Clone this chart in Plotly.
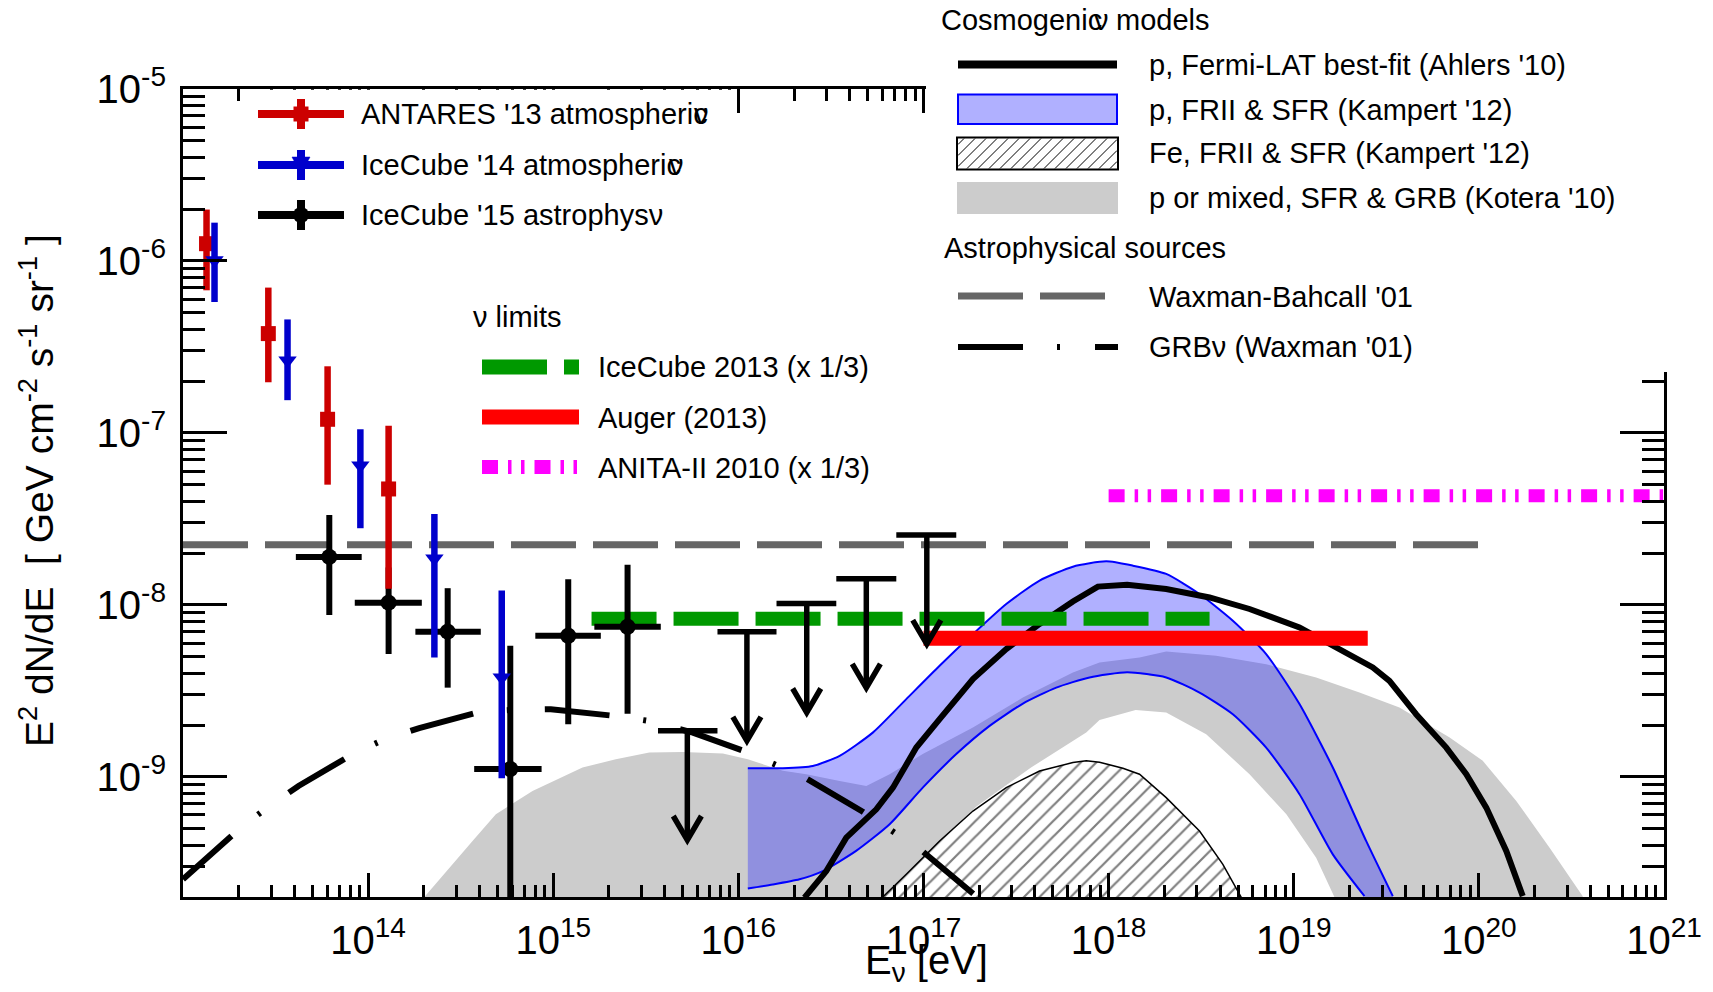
import numpy as np
import plotly.graph_objects as go

FONT = "Liberation Sans, Arial, Helvetica, sans-serif"

# ---------------------------------------------------------------- data
# ANTARES '13 atmospheric (E [eV], E^2 dN/dE [GeV cm^-2 s^-1 sr^-1])
antares_E = [1.34e13, 2.89e13, 6.04e13, 1.29e14]
antares_flux = [1.26e-6, 3.78e-7, 1.20e-7, 4.72e-8]
antares_hi = [1.99e-6, 7.00e-7, 2.44e-7, 1.10e-7]
antares_lo = [6.75e-7, 1.97e-7, 5.00e-8, 1.24e-8]

# IceCube '14 atmospheric
ic14_E = [1.48e13, 3.67e13, 9.08e13, 2.28e14, 5.27e14]
ic14_flux = [1.01e-6, 2.64e-7, 6.46e-8, 1.86e-8, 3.78e-9]
ic14_hi = [1.67e-6, 4.57e-7, 1.05e-7, 3.38e-8, 1.21e-8]
ic14_lo = [5.77e-7, 1.55e-7, 2.79e-8, 4.94e-9, 9.82e-10]

# IceCube '15 astrophysical
ic15_E = [6.17e13, 1.29e14, 2.69e14, 5.86e14, 1.205e15, 2.52e15]
ic15_Elo = [4.07e13, 8.47e13, 1.80e14, 3.74e14, 8.00e14, 1.667e15]
ic15_Ehi = [9.23e13, 1.95e14, 4.06e14, 8.65e14, 1.807e15, 3.81e15]
ic15_flux = [1.90e-8, 1.03e-8, 6.98e-9, 1.11e-9, 6.61e-9, 7.46e-9]
ic15_hi = [3.33e-8, 1.65e-8, 1.25e-8, 5.78e-9, 1.41e-8, 1.71e-8]
ic15_lo = [8.73e-9, 5.18e-9, 3.30e-9, 1.92e-10, 2.02e-9, 2.33e-9]

# IceCube '15 upper limits
lim_E = [5.30e15, 1.112e16, 2.34e16, 4.91e16, 1.042e17]
lim_Elo = [3.68e15, 7.71e15, 1.607e16, 3.38e16, 7.13e16]
lim_Ehi = [7.71e15, 1.607e16, 3.38e16, 7.13e16, 1.503e17]
lim_flux = [1.85e-9, 6.98e-9, 1.02e-8, 1.42e-8, 2.55e-8]

# flat limits / bounds: (E_min, E_max, flux)
wb_range, wb_flux = [1e13, 1e20], 2.24e-8
ic13_range, ic13_flux = [1.61e15, 3.51e18], 8.3e-9
auger_range, auger_flux = [1e17, 2.51e19], 6.4e-9
anita_range, anita_flux = [1e18, 1e21], 4.31e-8

# model curves, log10(E/eV) and log10(flux)
grb_logE = [13.0, 13.322, 13.469, 13.624, 13.925, 14.091, 14.276, 14.609, 14.798, 14.987,
            15.333, 15.515, 15.754, 16.033, 16.195, 16.367, 16.672, 16.829, 16.988, 17.294]
grb_logF = [-9.596, -9.286, -9.169, -9.053, -8.863, -8.781, -8.717, -8.620, -8.610, -8.607,
            -8.646, -8.675, -8.743, -8.851, -8.927, -9.010, -9.203, -9.311, -9.427, -9.703]

fermi_logE = [16.357, 16.475, 16.583, 16.745, 16.835, 16.961, 17.087, 17.267, 17.447, 17.627,
              17.807, 17.942, 18.10, 18.311, 18.545, 18.761, 19.031, 19.247, 19.427, 19.517,
              19.661, 19.824, 19.932, 20.040, 20.148, 20.237]
fermi_logF = [-9.703, -9.548, -9.354, -9.189, -9.063, -8.830, -8.665, -8.432, -8.257, -8.111,
              -7.980, -7.894, -7.883, -7.908, -7.957, -8.024, -8.131, -8.257, -8.364, -8.442,
              -8.636, -8.830, -8.985, -9.179, -9.431, -9.694]

kp_up_logE = [16.051, 16.240, 16.402, 16.547, 16.726, 16.907, 17.087, 17.267, 17.447, 17.627,
              17.807, 17.987, 18.131, 18.311, 18.491, 18.671, 18.851, 19.031, 19.211, 19.391, 19.535]
kp_up_logF = [-8.950, -8.950, -8.937, -8.878, -8.743, -8.548, -8.354, -8.170, -7.995, -7.859,
              -7.778, -7.747, -7.772, -7.820, -7.937, -8.092, -8.286, -8.577, -8.946, -9.373, -9.694]
kp_lo_logE = [16.051, 16.186, 16.330, 16.456, 16.636, 16.817, 16.996, 17.177, 17.357, 17.537,
              17.717, 17.897, 18.10, 18.311, 18.491, 18.671, 18.851, 19.031, 19.211, 19.382]
kp_lo_logF = [-9.649, -9.626, -9.596, -9.548, -9.431, -9.276, -9.063, -8.868, -8.704, -8.574,
              -8.481, -8.422, -8.392, -8.422, -8.510, -8.636, -8.830, -9.101, -9.451, -9.694]

kfe_logE = [16.779, 16.907, 17.087, 17.267, 17.447, 17.627, 17.807, 17.879, 17.951, 18.077,
            18.167, 18.311, 18.491, 18.617, 18.716]
kfe_logF = [-9.70, -9.567, -9.373, -9.199, -9.063, -8.966, -8.917, -8.907, -8.915, -8.950,
            -8.985, -9.121, -9.315, -9.509, -9.70]

kot_up_logE = [14.303, 14.438, 14.564, 14.690, 14.888, 15.158, 15.338, 15.519, 15.699, 15.916,
               16.051, 16.240, 16.367, 16.547, 16.691, 16.817, 16.996, 17.267, 17.537, 17.807,
               17.951, 18.167, 18.311, 18.581, 18.851, 19.121, 19.355, 19.571, 19.842, 20.021,
               20.202, 20.382, 20.561]
kot_up_logF = [-9.70, -9.529, -9.373, -9.218, -9.082, -8.946, -8.898, -8.859, -8.855, -8.865,
               -8.898, -8.965, -8.985, -9.024, -9.053, -8.985, -8.868, -8.713, -8.539, -8.393,
               -8.335, -8.306, -8.271, -8.296, -8.345, -8.422, -8.510, -8.597, -8.772, -8.907,
               -9.140, -9.412, -9.694]
kot_lo_logE = [16.779, 17.284, 17.581, 17.879, 17.951, 18.146, 18.311, 18.527, 18.761, 18.960,
               19.121, 19.220]
kot_lo_logF = [-9.70, -9.174, -8.946, -8.742, -8.67, -8.612, -8.626, -8.752, -8.985, -9.218,
               -9.470, -9.70]

x_tick_exp = list(range(14, 22))
y_tick_exp = list(range(-9, -4))

# ---------------------------------------------------------------- styling
C_ANT = "#CC0000"
C_IC14 = "#0000CC"
C_WB = "#666666"
C_GREEN = "#009900"
C_AUGER = "#FF0000"
C_ANITA = "#FF00FF"
C_GRAY = "#CCCCCC"
C_BAND = "rgba(43,43,255,0.373)"
C_BANDLINE = "#0000FF"

DASH_LONG = "65px,17px"
DASH_GRB = "65px,34px,3px,35px"
DASH_ANITA = "16px,10px,3.5px,9.5px,3.5px,10px"

ARROW_DEC = 0.635     # arrow length of the upper limits (decades)
HEAD_DX = 0.076       # half width of the arrow head (decades in E)
HEAD_DY = 0.14        # height of the arrow head (decades in flux)
FLOOR = -10.0         # closing level for bands, below the axis

TXT = 29              # legend text size

L, R, T, B = 183, 49, 89, 95
FW, FH = 1713, 992
W, H = FW - L - R, FH - T - B


def xp(px):
    return (px - L) / W


def yp(py):
    return (T + H - py) / H


def pw(v):
    return [10 ** a for a in v]


fig = go.Figure()

# Kotera band (upper edge, then the inner edge back)
poly_x = kot_up_logE + [kot_up_logE[-1], kot_lo_logE[-1]] + kot_lo_logE[::-1] + [kot_lo_logE[0], kot_up_logE[0]]
poly_y = kot_up_logF + [FLOOR, FLOOR] + kot_lo_logF[::-1] + [FLOOR, FLOOR]
fig.add_trace(go.Scatter(x=pw(poly_x), y=pw(poly_y), mode="lines", fill="toself",
                         fillcolor=C_GRAY, line=dict(width=0), hoverinfo="skip"))

# Kampert proton band
band_x = kp_up_logE + [kp_up_logE[-1], kp_lo_logE[-1]] + kp_lo_logE[::-1]
band_y = kp_up_logF + [FLOOR, FLOOR] + kp_lo_logF[::-1]
fig.add_trace(go.Scatter(x=pw(band_x), y=pw(band_y), mode="lines", fill="toself",
                         fillcolor=C_BAND, line=dict(width=0), hoverinfo="skip"))

# Kampert iron, hatched
fe_x = kfe_logE + [kfe_logE[-1], kfe_logE[0]]
fe_y = kfe_logF + [FLOOR, FLOOR]
fig.add_trace(go.Scatter(x=pw(fe_x), y=pw(fe_y), mode="lines", fill="toself",
                         fillcolor="rgba(0,0,0,0)",
                         fillpattern=dict(shape="/", fgcolor="black", bgcolor="rgba(0,0,0,0)",
                                          size=11, solidity=0.2),
                         line=dict(color="black", width=1.5), hoverinfo="skip"))

# Kampert proton band edges
for lx, ly in ((kp_up_logE, kp_up_logF), (kp_lo_logE, kp_lo_logF)):
    fig.add_trace(go.Scatter(x=pw(lx), y=pw(ly), mode="lines", line_shape="spline",
                             line=dict(color=C_BANDLINE, width=2, smoothing=0.6),
                             hoverinfo="skip"))

# Waxman-Bahcall bound
fig.add_trace(go.Scatter(x=wb_range, y=[wb_flux, wb_flux], mode="lines",
                         line=dict(color=C_WB, width=7, dash=DASH_LONG)))

# GRB neutrinos
fig.add_trace(go.Scatter(x=pw(grb_logE), y=pw(grb_logF), mode="lines",
                         line=dict(color="black", width=6, dash=DASH_GRB)))

# Fermi-LAT best fit
fig.add_trace(go.Scatter(x=pw(fermi_logE), y=pw(fermi_logF), mode="lines",
                         line=dict(color="black", width=6)))

# flat limits
fig.add_trace(go.Scatter(x=ic13_range, y=[ic13_flux] * 2, mode="lines",
                         line=dict(color=C_GREEN, width=14, dash=DASH_LONG)))
fig.add_trace(go.Scatter(x=auger_range, y=[auger_flux] * 2, mode="lines",
                         line=dict(color=C_AUGER, width=15)))
fig.add_trace(go.Scatter(x=anita_range, y=[anita_flux] * 2, mode="lines",
                         line=dict(color=C_ANITA, width=13, dash=DASH_ANITA)))

# IceCube '15 upper limits: bin bar, shaft and open arrow head
ux, uy = [], []
for e, elo, ehi, f in zip(lim_E, lim_Elo, lim_Ehi, lim_flux):
    le, lf = np.log10(e), np.log10(f)
    tip = lf - ARROW_DEC
    ux += [elo, ehi, None, e, e, None,
           10 ** (le - HEAD_DX), e, 10 ** (le + HEAD_DX), None]
    uy += [f, f, None, f, 10 ** tip, None,
           10 ** (tip + HEAD_DY), 10 ** tip, 10 ** (tip + HEAD_DY), None]
fig.add_trace(go.Scatter(x=ux, y=uy, mode="lines", line=dict(color="black", width=5.5)))

# IceCube '15 astrophysical
fig.add_trace(go.Scatter(
    x=ic15_E, y=ic15_flux, mode="markers",
    marker=dict(symbol="circle", size=16, color="black"),
    error_x=dict(type="data", symmetric=False,
                 array=[h - c for h, c in zip(ic15_Ehi, ic15_E)],
                 arrayminus=[c - l for c, l in zip(ic15_E, ic15_Elo)],
                 color="black", thickness=6, width=0),
    error_y=dict(type="data", symmetric=False,
                 array=[h - c for h, c in zip(ic15_hi, ic15_flux)],
                 arrayminus=[c - l for c, l in zip(ic15_flux, ic15_lo)],
                 color="black", thickness=6, width=0)))

# ANTARES '13
fig.add_trace(go.Scatter(
    x=antares_E, y=antares_flux, mode="markers",
    marker=dict(symbol="square", size=15, color=C_ANT),
    error_y=dict(type="data", symmetric=False,
                 array=[h - c for h, c in zip(antares_hi, antares_flux)],
                 arrayminus=[c - l for c, l in zip(antares_flux, antares_lo)],
                 color=C_ANT, thickness=6.5, width=0)))

# IceCube '14
fig.add_trace(go.Scatter(
    x=ic14_E, y=ic14_flux, mode="markers",
    marker=dict(symbol="triangle-down", size=16, color=C_IC14),
    error_y=dict(type="data", symmetric=False,
                 array=[h - c for h, c in zip(ic14_hi, ic14_flux)],
                 arrayminus=[c - l for c, l in zip(ic14_flux, ic14_lo)],
                 color=C_IC14, thickness=6.5, width=0)))

# ---------------------------------------------------------------- axes
x_minor = [m * 10.0 ** k for k in range(13, 21) for m in range(2, 10)]
y_minor = [m * 10.0 ** k for k in range(-10, -5) for m in range(2, 10) if m * 10.0 ** k > 1.9e-10]

fig.update_xaxes(
    type="log", range=[13, 21],
    tickmode="array", tickvals=[10.0 ** k for k in x_tick_exp],
    ticktext=[f"10<sup>{k}</sup>" for k in x_tick_exp],
    ticks="inside", ticklen=24, tickwidth=2.5, tickcolor="black",
    minor=dict(tickmode="array", tickvals=x_minor, ticks="inside", ticklen=12,
               tickwidth=2.5, tickcolor="black", showgrid=False),
    showline=True, linewidth=3, linecolor="black", mirror="ticks",
    showgrid=False, zeroline=False,
    tickfont=dict(family=FONT, size=40, color="black"), ticklabelstandoff=6)

fig.update_yaxes(
    type="log", range=[np.log10(2e-10), -5],
    tickmode="array", tickvals=[10.0 ** k for k in y_tick_exp],
    ticktext=[f"10<sup>{k}</sup>" for k in y_tick_exp],
    ticks="inside", ticklen=44, tickwidth=2.5, tickcolor="black",
    minor=dict(tickmode="array", tickvals=y_minor, ticks="inside", ticklen=22,
               tickwidth=2.5, tickcolor="black", showgrid=False),
    showline=True, linewidth=3, linecolor="black", mirror="ticks",
    showgrid=False, zeroline=False,
    tickfont=dict(family=FONT, size=40, color="black"), ticklabelstandoff=6)

shapes = []
# white legend panels over the frame
shapes.append(dict(type="rect", xref="paper", yref="paper", x0=xp(245), x1=xp(735),
                   y0=yp(235), y1=yp(T + 0.8), fillcolor="white", line=dict(width=0)))
shapes.append(dict(type="rect", xref="paper", yref="paper", x0=xp(926), x1=xp(FW + 5),
                   y0=yp(372), y1=yp(-5), fillcolor="white", line=dict(width=0)))


def hline(xa, xb, y, color, width, dash="solid"):
    shapes.append(dict(type="line", xref="paper", yref="paper", x0=xp(xa), x1=xp(xb),
                       y0=yp(y), y1=yp(y), line=dict(color=color, width=width, dash=dash)))


def vline(x, ya, yb, color, width):
    shapes.append(dict(type="line", xref="paper", yref="paper", x0=xp(x), x1=xp(x),
                       y0=yp(ya), y1=yp(yb), line=dict(color=color, width=width)))


def rect(xa, xb, ya, yb, fill, lcolor=None, lwidth=0):
    shapes.append(dict(type="rect", xref="paper", yref="paper", x0=xp(xa), x1=xp(xb),
                       y0=yp(yb), y1=yp(ya), fillcolor=fill,
                       line=dict(color=lcolor or fill, width=lwidth)))


# data legend (top left)
hline(258, 344, 114, C_ANT, 8)
vline(301, 99, 129, C_ANT, 8)
rect(293.5, 308.5, 106.5, 121.5, C_ANT)
hline(258, 344, 165, C_IC14, 8)
vline(301, 150, 180, C_IC14, 8)
shapes.append(dict(type="path", xref="paper", yref="paper",
                   path=f"M {xp(292)},{yp(157)} L {xp(310)},{yp(157)} L {xp(301)},{yp(174)} Z",
                   fillcolor=C_IC14, line=dict(color=C_IC14, width=0.5)))
hline(258, 344, 215, "black", 8)
vline(301, 200, 230, "black", 8)
shapes.append(dict(type="circle", xref="paper", yref="paper", x0=xp(293), x1=xp(309),
                   y0=yp(223), y1=yp(207), fillcolor="black", line=dict(color="black", width=0)))

# limits legend
hline(482, 579, 367, C_GREEN, 15, DASH_LONG)
hline(482, 579, 417, C_AUGER, 15)
hline(482, 579, 467, C_ANITA, 14, DASH_ANITA)

# model legend (top right)
hline(958, 1117, 64.5, "black", 8)
rect(958, 1117, 94.5, 124, "#B0B0FF", C_BANDLINE, 2)
rect(957, 1118, 137.5, 169.5, "white", "black", 2)
bx0, bx1, by0, by1 = 958, 1117, 138.5, 168.5
for k in np.arange(bx0 + by0 + 6, bx1 + by1, 11.0):
    xa, xb = max(bx0, k - by1), min(bx1, k - by0)
    if xb - xa < 1:
        continue
    shapes.append(dict(type="line", xref="paper", yref="paper", x0=xp(xa), x1=xp(xb),
                       y0=yp(k - xa), y1=yp(k - xb), line=dict(color="black", width=1)))
rect(957, 1118, 182, 214, C_GRAY)
hline(958, 1105, 296, C_WB, 7, DASH_LONG)
hline(958, 1118, 347, "black", 6, DASH_GRB)

annotations = []


def label(text, x, y, size=TXT, anchor="left"):
    annotations.append(dict(text=text, xref="paper", yref="paper", x=xp(x), y=yp(y),
                            xanchor=anchor, yanchor="middle", showarrow=False,
                            borderpad=0, borderwidth=0,
                            font=dict(family=FONT, size=size, color="black")))


label("ANTARES '13 atmospheric", 361, 114)
label("\u03bd", 701, 114, anchor="center")
label("IceCube '14 atmospheric", 361, 164.5)
label("\u03bd", 676, 164.5, anchor="center")
label("IceCube '15 astrophys\u03bd", 361, 215)
label("\u03bd limits", 473, 317)
label("IceCube 2013 (x 1/3)", 598, 367)
label("Auger (2013)", 598, 418)
label("ANITA-II 2010 (x 1/3)", 598, 468)
label("Cosmogenic", 941, 20)
label("\u03bd", 1101, 20, anchor="center")
label("models", 1115.5, 20)
label("p, Fermi-LAT best-fit (Ahlers '10)", 1149, 65)
label("p, FRII &amp; SFR (Kampert '12)", 1149, 110)
label("Fe, FRII &amp; SFR (Kampert '12)", 1149, 153)
label("p or mixed, SFR &amp; GRB (Kotera '10)", 1149, 198)
label("Astrophysical sources", 944, 248)
label("Waxman-Bahcall '01", 1149, 297)
label("GRB\u03bd (Waxman '01)", 1149, 347)

# axis titles
annotations.append(dict(text="E<sub>\u03bd</sub> [eV]", xref="paper", yref="paper",
                        x=xp(926), y=yp(963), xanchor="center", yanchor="middle",
                        showarrow=False, font=dict(family=FONT, size=40, color="black")))
annotations.append(dict(text="E<sup>2</sup> dN/dE \u00a0[ GeV cm<sup>-2</sup> s<sup>-1</sup> sr<sup>-1</sup> ]",
                        xref="paper", yref="paper", x=xp(36), y=yp(491), textangle=-90,
                        xanchor="center", yanchor="middle", showarrow=False,
                        font=dict(family=FONT, size=39, color="black")))

fig.update_layout(width=FW, height=FH, margin=dict(l=L, r=R, t=T, b=B, pad=0),
                  paper_bgcolor="white", plot_bgcolor="white", showlegend=False,
                  font=dict(family=FONT, color="black"),
                  shapes=shapes, annotations=annotations)

fig.write_html("out.html")
